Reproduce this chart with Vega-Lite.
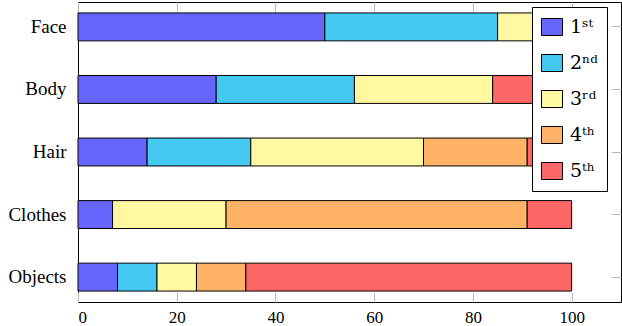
{
  "$schema": "https://vega.github.io/schema/vega-lite/v6.json",
  "width": 543,
  "height": 300,
  "autosize": {"type": "none"},
  "padding": {"left": 78, "top": 2, "right": 1, "bottom": 24},
  "config": {
    "view": {"stroke": "black", "strokeWidth": 1},
    "font": "Liberation Serif"
  },
  "data": {
    "values": [
      {"item": "Face", "rank": "1ˢᵗ", "r": 1, "value": 50},
      {"item": "Face", "rank": "2ⁿᵈ", "r": 2, "value": 35},
      {"item": "Face", "rank": "3ʳᵈ", "r": 3, "value": 15},
      {"item": "Face", "rank": "4ᵗʰ", "r": 4, "value": 0},
      {"item": "Face", "rank": "5ᵗʰ", "r": 5, "value": 0},
      {"item": "Body", "rank": "1ˢᵗ", "r": 1, "value": 28},
      {"item": "Body", "rank": "2ⁿᵈ", "r": 2, "value": 28},
      {"item": "Body", "rank": "3ʳᵈ", "r": 3, "value": 28},
      {"item": "Body", "rank": "4ᵗʰ", "r": 4, "value": 0},
      {"item": "Body", "rank": "5ᵗʰ", "r": 5, "value": 16},
      {"item": "Hair", "rank": "1ˢᵗ", "r": 1, "value": 14},
      {"item": "Hair", "rank": "2ⁿᵈ", "r": 2, "value": 21},
      {"item": "Hair", "rank": "3ʳᵈ", "r": 3, "value": 35},
      {"item": "Hair", "rank": "4ᵗʰ", "r": 4, "value": 21},
      {"item": "Hair", "rank": "5ᵗʰ", "r": 5, "value": 9},
      {"item": "Clothes", "rank": "1ˢᵗ", "r": 1, "value": 7},
      {"item": "Clothes", "rank": "2ⁿᵈ", "r": 2, "value": 0},
      {"item": "Clothes", "rank": "3ʳᵈ", "r": 3, "value": 23},
      {"item": "Clothes", "rank": "4ᵗʰ", "r": 4, "value": 61},
      {"item": "Clothes", "rank": "5ᵗʰ", "r": 5, "value": 9},
      {"item": "Objects", "rank": "1ˢᵗ", "r": 1, "value": 8},
      {"item": "Objects", "rank": "2ⁿᵈ", "r": 2, "value": 8},
      {"item": "Objects", "rank": "3ʳᵈ", "r": 3, "value": 8},
      {"item": "Objects", "rank": "4ᵗʰ", "r": 4, "value": 10},
      {"item": "Objects", "rank": "5ᵗʰ", "r": 5, "value": 66}
    ]
  },
  "resolve": {"axis": {"x": "independent", "y": "independent"}},
  "layer": [
    {
      "mark": {"type": "bar", "stroke": "black", "strokeWidth": 1},
      "encoding": {
        "y": {
          "field": "item", "type": "nominal",
          "sort": ["Face", "Body", "Hair", "Clothes", "Objects"],
          "scale": {"paddingInner": 0.554, "paddingOuter": 0.175},
          "axis": {"title": null, "labelFontSize": 19, "labelColor": "black", "tickSize": -10, "tickColor": "#bbbbbb", "domain": false, "labelPadding": 22}
        },
        "x": {
          "field": "value", "type": "quantitative", "stack": "zero",
          "scale": {"domain": [0, 110], "nice": false},
          "axis": {"title": null, "values": [0, 20, 40, 60, 80, 100], "grid": false, "tickSize": -10, "tickColor": "#bbbbbb", "domain": false, "labelFontSize": 17, "labelColor": "black", "labelPadding": 17}
        },
        "color": {
          "field": "rank", "type": "nominal",
          "scale": {"domain": ["1ˢᵗ", "2ⁿᵈ", "3ʳᵈ", "4ᵗʰ", "5ᵗʰ"], "range": ["#6666FF", "#44C8F2", "#FFF8A0", "#FFB366", "#FF6666"]},
          "legend": {
            "title": null, "orient": "none", "legendX": 454, "legendY": 5,
            "fillColor": "white", "strokeColor": "black", "padding": 9,
            "labelFont": "DejaVu Serif",
            "labelFontSize": 19, "labelColor": "black", "labelOffset": 7,
            "symbolType": "M-1,-0.81H1V0.81H-1Z", "symbolSize": 441,
            "symbolStrokeColor": "black", "symbolStrokeWidth": 1, "symbolOpacity": 1,
            "rowPadding": 14
          }
        },
        "order": {"field": "r", "type": "quantitative"}
      }
    },
    {
      "mark": {"type": "bar", "opacity": 0},
      "encoding": {
        "y": {
          "field": "item", "type": "nominal",
          "sort": ["Face", "Body", "Hair", "Clothes", "Objects"],
          "axis": {"orient": "right", "title": null, "labels": false, "tickSize": -10, "tickColor": "#bbbbbb", "domain": false}
        },
        "x": {
          "field": "value", "type": "quantitative", "stack": "zero",
          "axis": {"orient": "top", "title": null, "values": [0, 20, 40, 60, 80, 100], "labels": false, "grid": false, "tickSize": -10, "tickColor": "#bbbbbb", "domain": false}
        }
      }
    }
  ]
}
